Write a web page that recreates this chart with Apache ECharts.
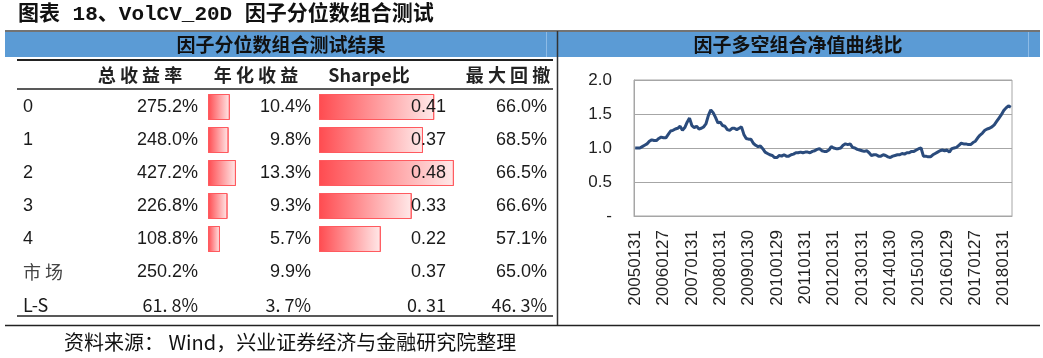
<!DOCTYPE html>
<html><head><meta charset="utf-8">
<script src="https://cdn.jsdelivr.net/npm/echarts@6/dist/echarts.min.js"></script>
<style>html,body{margin:0;padding:0;background:#fff}#c{width:1043px;height:358px}</style>
</head><body><div id="c"></div>
<script>
// ---- table data ----
const rowLabels = ['0', '1', '2', '3', '4', '市场', 'L-S'];
const totalRet = [275.2, 248.0, 427.2, 226.8, 108.8, 250.2, 61.8];
const annRet = [10.4, 9.8, 13.3, 9.3, 5.7, 9.9, 3.7];
const sharpe = [0.41, 0.37, 0.48, 0.33, 0.22, 0.37, 0.31];
const maxDD = [66.0, 68.5, 66.5, 66.6, 57.1, 65.0, 46.3];
const headers = ['总 收 益 率', '年 化 收 益', 'Sharpe比', '最 大 回 撤'];
// ---- line chart data ----
const tickLabels = ['20050131','20060127','20070131','20080131','20090130','20100129','20110131',
  '20120131','20130131','20140130','20150130','20160129','20170127','20180131'];
const navValues = [
  1.00,1.00,1.00,1.02,1.04,1.06,1.10,1.12,1.11,1.11,1.14,1.16,
  1.15,1.15,1.20,1.25,1.26,1.28,1.29,1.32,1.26,1.30,1.38,1.44,
  1.33,1.30,1.32,1.28,1.29,1.31,1.36,1.48,1.56,1.52,1.45,1.37,
  1.38,1.33,1.32,1.27,1.26,1.29,1.29,1.27,1.29,1.31,1.20,1.14,
  1.13,1.13,1.07,1.04,1.02,1.03,0.99,0.94,0.92,0.90,0.89,0.86,
  0.86,0.89,0.88,0.90,0.88,0.88,0.90,0.91,0.93,0.93,0.94,0.93,
  0.94,0.94,0.93,0.95,0.96,0.98,0.99,0.96,0.95,0.95,0.97,1.02,
  1.00,0.99,0.99,1.00,1.04,1.06,1.05,1.06,1.01,1.00,0.98,0.97,
  0.96,0.95,0.96,0.93,0.89,0.90,0.90,0.88,0.88,0.90,0.89,0.87,
  0.86,0.88,0.89,0.90,0.90,0.92,0.91,0.93,0.93,0.95,0.95,0.97,
  0.99,1.00,0.88,0.88,0.87,0.87,0.90,0.92,0.94,0.96,0.97,0.96,
  0.97,0.94,0.99,1.00,1.01,1.04,1.07,1.06,1.06,1.05,1.05,1.08,
  1.10,1.15,1.19,1.22,1.26,1.28,1.29,1.31,1.34,1.39,1.44,1.49,
  1.55,1.59,1.62,1.60
];

const categories = navValues.map((v, i) => {
  const y = 2005 + Math.floor(i / 12), m = i % 12;
  return m === 0 ? tickLabels[y - 2005] : String(y) + String(m + 1).padStart(2, '0') + '28';
});

const chart = echarts.init(document.getElementById('c'));
const barGrad = new echarts.graphic.LinearGradient(0, 0, 1, 0, [
  { offset: 0, color: '#ff4b50' }, { offset: 1, color: '#ffe9e9' }]);
const nBar = 5;
const annBars = annRet.map((v, i) => i < nBar ? v : '-');
const shBars = sharpe.map((v, i) => i < nBar ? v : '-');
const numFont = 'Liberation Sans, Arial, sans-serif';
const cjk = 'Noto Sans CJK SC, sans-serif';

chart.setOption({
  animation: false,
  backgroundColor: '#fff',
  grid: [
    { left: 208, top: 90.5, width: 42, height: 231 },
    { left: 319, top: 90.5, width: 140.5, height: 231 },
    { left: 634, top: 80, right: 31, bottom: 142, show: true, borderColor: '#a6a6a6', borderWidth: 1 }
  ],
  xAxis: [
    { gridIndex: 0, type: 'value', min: 0, max: 20, show: false },
    { gridIndex: 1, type: 'value', min: 0, max: 0.5, show: false },
    { gridIndex: 2, type: 'category', data: categories, boundaryGap: true,
      axisLine: { lineStyle: { color: '#a6a6a6' } },
      axisTick: { interval: 0, length: 6, lineStyle: { color: '#a6a6a6' } },
      axisLabel: { interval: 11, rotate: 90, fontSize: 17, color: '#222', margin: 14, fontFamily: numFont } }
  ],
  yAxis: [
    { gridIndex: 0, type: 'category', data: rowLabels, inverse: true, show: false },
    { gridIndex: 1, type: 'category', data: rowLabels, inverse: true, show: false },
    { gridIndex: 2, type: 'value', min: 0, max: 2, interval: 0.5,
      axisLine: { show: true, lineStyle: { color: '#a6a6a6' } }, axisTick: { show: false },
      splitLine: { lineStyle: { color: '#a6a6a6' } },
      axisLabel: { fontSize: 17, color: '#222', margin: 22, fontFamily: numFont,
        formatter: v => v === 0 ? '-' : v.toFixed(1) } }
  ],
  series: [
    { type: 'bar', xAxisIndex: 0, yAxisIndex: 0, data: annBars, barWidth: 26, silent: true,
      itemStyle: { color: barGrad, borderColor: '#ff5a5f', borderWidth: 1 } },
    { type: 'bar', xAxisIndex: 1, yAxisIndex: 1, data: shBars, barWidth: 26, silent: true,
      itemStyle: { color: barGrad, borderColor: '#ff5a5f', borderWidth: 1 } },
    { type: 'line', xAxisIndex: 2, yAxisIndex: 2, data: navValues, showSymbol: false, symbol: 'none',
      lineStyle: { color: '#2a4b7c', width: 3 } }
  ]
});

// ---- frame & text graphics ----
const g = [];
const line = (x1, y1, x2, y2, color, w) => g.push({ type: 'line', shape: { x1, y1, x2, y2 }, style: { stroke: color, lineWidth: w }, silent: true, z: 10 });
const text = (x, y, t, opt) => g.push({ type: 'text', x, y, silent: true, z: 20,
  style: Object.assign({ text: t, fill: '#1a1a1a', font: '18px ' + numFont, align: 'left', verticalAlign: 'middle' }, opt) });

// title
text(18, 15, '图表 18、VolCV_20D 因子分位数组合测试', { font: 'bold 21px Liberation Mono, Noto Sans CJK SC, monospace', fill: '#111' });
// blue bands
g.push({ type: 'rect', shape: { x: 5, y: 32, width: 552, height: 25 }, style: { fill: '#5b9bd5' }, silent: true, z: 1 });
g.push({ type: 'rect', shape: { x: 558, y: 32, width: 482, height: 25 }, style: { fill: '#5b9bd5' }, silent: true, z: 1 });
line(546.5, 32, 546.5, 57, '#8dbbe6', 1);
line(1028.5, 32, 1028.5, 57, '#8dbbe6', 1);
line(5, 31, 1040, 31, '#444', 1.5);
line(557.5, 31, 557.5, 325, '#333', 1.5);
line(5, 325.5, 1040, 325.5, '#222', 1.5);
text(281, 45, '因子分位数组合测试结果', { font: 'bold 19px ' + cjk, align: 'center', fill: '#111' });
text(798, 45, '因子多空组合净值曲线比', { font: 'bold 19px ' + cjk, align: 'center', fill: '#111' });
// table rules
line(17, 60, 553, 60, '#222', 2);
line(17, 89, 553, 89, '#222', 1.5);
line(17, 316, 553, 316, '#222', 1.5);
// headers
const hdrX = [140, 256, 369, 508];
headers.forEach((h, j) => text(hdrX[j], 75, h, { font: 'bold 18px ' + cjk, align: 'center', fill: '#222' }));
// rows
const colRight = [198, 311, 446, 547];
rowLabels.forEach((lab, i) => {
  const y = chart.convertToPixel({ yAxisIndex: 0 }, lab);
  const isLS = lab === 'L-S';
  const isMkt = lab === '市场';
  const f = isLS ? '18px ' + cjk : '18px ' + numFont;
  const fmtPct = v => isLS ? v.toFixed(1).replace('.', '. ') + '%' : v.toFixed(1) + '%';
  const fmtSh = v => isLS ? v.toFixed(2).replace('.', '. ') : v.toFixed(2);
  text(23, y, isMkt ? '市 场' : lab, { font: (isMkt || isLS) ? '18px ' + cjk : f, fill: isMkt ? '#444' : '#1a1a1a' });
  text(colRight[0], y, fmtPct(totalRet[i]), { font: f, align: 'right' });
  text(colRight[1], y, fmtPct(annRet[i]), { font: f, align: 'right' });
  text(colRight[2], y, fmtSh(sharpe[i]), { font: f, align: 'right' });
  text(colRight[3], y, fmtPct(maxDD[i]), { font: f, align: 'right' });
});
// source
text(64, 342, '资料来源： Wind，兴业证券经济与金融研究院整理', { font: '20px ' + cjk, fill: '#111' });

chart.setOption({ graphic: g });
</script></body></html>
